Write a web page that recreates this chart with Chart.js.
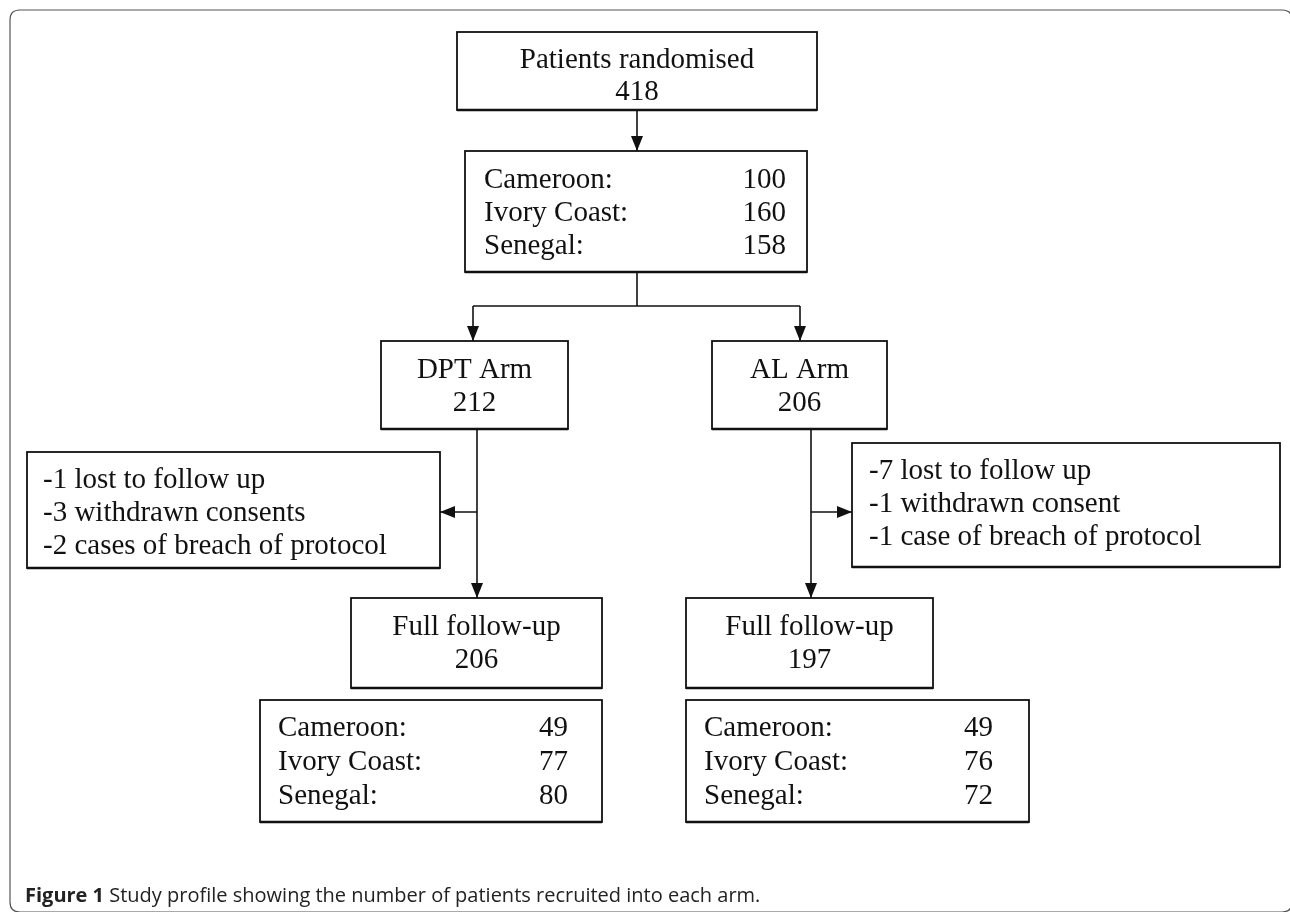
<!DOCTYPE html>
<html>
<head>
<meta charset="utf-8">
<script src="https://cdn.jsdelivr.net/npm/chart.js@4.4.1/dist/chart.umd.min.js"></script>
<style>
    html, body { margin: 0; padding: 0; background: #fff; }
    #wrap { width: 1290px; height: 912px; position: relative; }
</style>
</head>
<body>
<div id="wrap"><canvas id="flowChart"></canvas></div>
<script>
// Datos del diagrama
const randomisedLabel = 'Patients randomised';
const randomisedTotal = 418;
const countries = ['Cameroon:', 'Ivory Coast:', 'Senegal:'];
const randomisedByCountry = [100, 160, 158];
const arms = ['DPT Arm', 'AL Arm'];
const armTotals = [212, 206];
const dptExclusions = ['-1 lost to follow up', '-3 withdrawn consents', '-2 cases of breach of protocol'];
const alExclusions = ['-7 lost to follow up', '-1 withdrawn consent', '-1 case of breach of protocol'];
const followUpLabel = 'Full follow-up';
const followUpTotals = [206, 197];
const dptByCountry = [49, 77, 80];
const alByCountry = [49, 76, 72];
const captionBold = 'Figure 1';
const captionText = ' Study profile showing the number of patients recruited into each arm.';

// Layout (coordenadas en unidades de escala)
const boxes = {
    top:      { x1: 457, y1: 32,  x2: 817, y2: 110 },
    country:  { x1: 465, y1: 151, x2: 807, y2: 272 },
    dpt:      { x1: 381, y1: 341, x2: 568, y2: 429 },
    al:       { x1: 712, y1: 341, x2: 887, y2: 429 },
    dptExcl:  { x1: 27,  y1: 452, x2: 440, y2: 568 },
    alExcl:   { x1: 852, y1: 443, x2: 1280, y2: 567 },
    dptFull:  { x1: 351, y1: 598, x2: 602, y2: 688 },
    alFull:   { x1: 686, y1: 598, x2: 933, y2: 688 },
    dptCtry:  { x1: 260, y1: 700, x2: 602, y2: 822 },
    alCtry:   { x1: 686, y1: 700, x2: 1029, y2: 822 }
};

const SERIF = '29px "Liberation Serif", "Times New Roman", serif';

const flowPlugin = {
    id: 'flow',
    afterDraw(chart) {
        const ctx = chart.ctx;
        const xs = chart.scales.x;
        const ys = chart.scales.y;
        const X = v => xs.getPixelForValue(v);
        const Y = v => ys.getPixelForValue(v);

        ctx.save();

        // marco exterior
        ctx.strokeStyle = '#555';
        ctx.lineWidth = 1.2;
        roundRect(ctx, X(10), Y(10), X(1292) - X(10), Y(912) - Y(10), 10);
        ctx.stroke();

        ctx.strokeStyle = '#111';
        ctx.fillStyle = '#111';

        function box(b) {
            ctx.lineWidth = 1.8;
            ctx.strokeRect(X(b.x1), Y(b.y1), X(b.x2) - X(b.x1), Y(b.y2) - Y(b.y1));
            ctx.lineWidth = 2.5;
            ctx.beginPath();
            ctx.moveTo(X(b.x1), Y(b.y2));
            ctx.lineTo(X(b.x2), Y(b.y2));
            ctx.stroke();
        }
        function line(x1, y1, x2, y2) {
            ctx.lineWidth = 1.6;
            ctx.beginPath();
            ctx.moveTo(X(x1), Y(y1));
            ctx.lineTo(X(x2), Y(y2));
            ctx.stroke();
        }
        function arrow(x1, y1, x2, y2) {
            const ang = Math.atan2(Y(y2) - Y(y1), X(x2) - X(x1));
            const len = 15, half = 6;
            const bx = X(x2) - len * Math.cos(ang);
            const by = Y(y2) - len * Math.sin(ang);
            line(x1, y1, x2, y2);
            ctx.beginPath();
            ctx.moveTo(X(x2), Y(y2));
            ctx.lineTo(bx + half * Math.sin(ang), by - half * Math.cos(ang));
            ctx.lineTo(bx - half * Math.sin(ang), by + half * Math.cos(ang));
            ctx.closePath();
            ctx.fill();
        }
        function centred(lines, b, ys0, step) {
            ctx.font = SERIF;
            ctx.textAlign = 'center';
            ctx.textBaseline = 'middle';
            const cx = (X(b.x1) + X(b.x2)) / 2;
            lines.forEach((t, i) => ctx.fillText(String(t), cx, Y(ys0 + i * step)));
        }
        function leftLines(lines, x, ys0, step) {
            ctx.font = SERIF;
            ctx.textAlign = 'left';
            ctx.textBaseline = 'middle';
            lines.forEach((t, i) => ctx.fillText(t, X(x), Y(ys0 + i * step)));
        }
        function table(labels, values, lx, rx, ys0, step) {
            leftLines(labels, lx, ys0, step);
            ctx.textAlign = 'right';
            values.forEach((v, i) => ctx.fillText(String(v), X(rx), Y(ys0 + i * step)));
        }

        Object.values(boxes).forEach(box);

        // conectores
        arrow(637, 110, 637, 151);
        line(637, 272, 637, 306);
        line(473, 306, 800, 306);
        arrow(473, 306, 473, 341);
        arrow(800, 306, 800, 341);
        arrow(477, 429, 477, 598);
        arrow(811, 429, 811, 598);
        arrow(477, 512, 440, 512);
        arrow(811, 512, 852, 512);

        // textos
        centred([randomisedLabel, randomisedTotal], boxes.top, 60, 32);
        table(countries, randomisedByCountry, 484, 786, 180, 33);
        centred([arms[0], armTotals[0]], boxes.dpt, 370, 33);
        centred([arms[1], armTotals[1]], boxes.al, 370, 33);
        leftLines(dptExclusions, 43, 480, 33);
        leftLines(alExclusions, 869, 471, 33);
        centred([followUpLabel, followUpTotals[0]], boxes.dptFull, 627, 33);
        centred([followUpLabel, followUpTotals[1]], boxes.alFull, 627, 33);
        table(countries, dptByCountry, 278, 568, 728, 34);
        table(countries, alByCountry, 704, 993, 728, 34);

        // pie de figura
        ctx.fillStyle = '#222';
        ctx.textAlign = 'left';
        ctx.textBaseline = 'alphabetic';
        ctx.font = 'bold 20px "Open Sans", sans-serif';
        ctx.fillText(captionBold, X(25), Y(902));
        const w = ctx.measureText(captionBold).width;
        ctx.font = '20px "Open Sans", sans-serif';
        ctx.fillText(captionText, X(25) + w, Y(902));

        ctx.restore();
    }
};

function roundRect(ctx, x, y, w, h, r) {
    ctx.beginPath();
    ctx.moveTo(x + r, y);
    ctx.lineTo(x + w - r, y);
    ctx.quadraticCurveTo(x + w, y, x + w, y + r);
    ctx.lineTo(x + w, y + h - r);
    ctx.quadraticCurveTo(x + w, y + h, x + w - r, y + h);
    ctx.lineTo(x + r, y + h);
    ctx.quadraticCurveTo(x, y + h, x, y + h - r);
    ctx.lineTo(x, y + r);
    ctx.quadraticCurveTo(x, y, x + r, y);
    ctx.closePath();
}

document.addEventListener('DOMContentLoaded', () => {
    const canvas = document.getElementById('flowChart');
    new Chart(canvas, {
        type: 'scatter',
        data: { datasets: [{ data: [], pointRadius: 0 }] },
        options: {
            responsive: true,
            maintainAspectRatio: false,
            animation: false,
            events: [],
            layout: { padding: 0 },
            plugins: {
                legend: { display: false },
                tooltip: { enabled: false }
            },
            scales: {
                x: { type: 'linear', min: 0, max: 1290, display: false },
                y: { type: 'linear', min: 0, max: 912, reverse: true, display: false }
            }
        },
        plugins: [flowPlugin]
    });
});
</script>
</body>
</html>
